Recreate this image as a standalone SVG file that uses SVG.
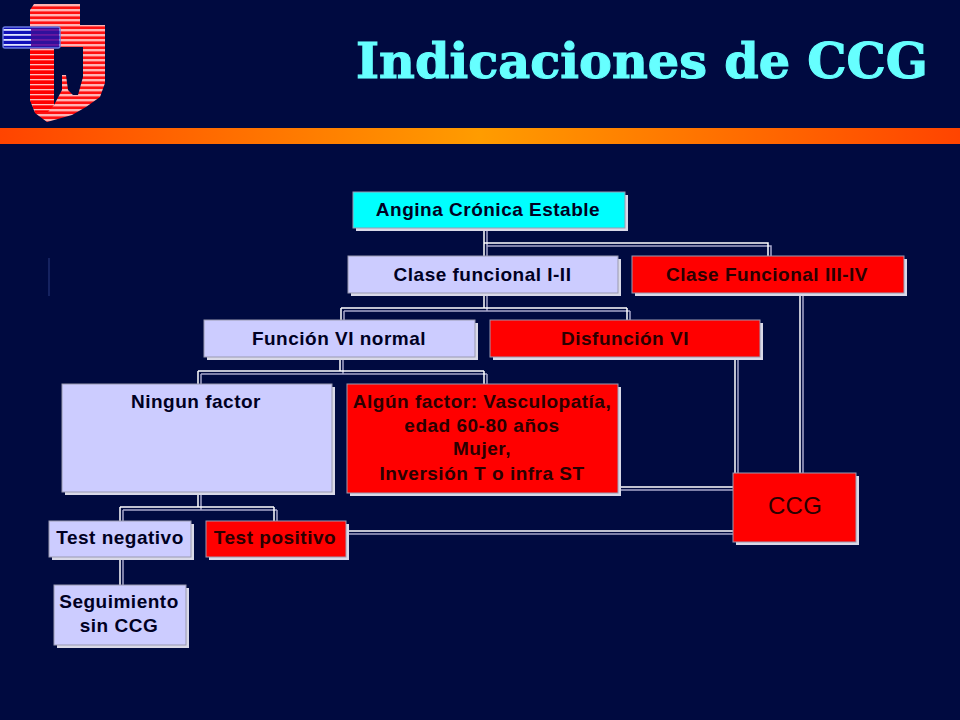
<svg xmlns="http://www.w3.org/2000/svg" width="960" height="720" viewBox="0 0 960 720">
<style>
.box{stroke:#9a9ab0;stroke-width:1}
.sh{fill:#d9d9e8}
.lav{fill:#ccccff}.red{fill:#ff0000}.cy{fill:#00ffff}
text{font-family:"Liberation Sans",Arial,sans-serif;font-weight:bold;font-size:19px;letter-spacing:0.5px;text-anchor:middle;fill:#000022}
.r{fill:#2a0000}
.w{fill:none;stroke:#ffffff;stroke-width:1.5}
.s{fill:none;stroke:#a8a8cc;stroke-width:1.5}
</style>
<defs>
<linearGradient id="band" x1="0" x2="1" y1="0" y2="0"><stop offset="0" stop-color="#ff4400"/><stop offset="0.5" stop-color="#ff9c00"/><stop offset="1" stop-color="#ff4400"/></linearGradient>
<pattern id="rs" width="10" height="5" patternUnits="userSpaceOnUse" y="4"><rect width="10" height="5" fill="#ff1010"/><rect width="10" height="2.4" fill="#ffb4b4"/></pattern>
<pattern id="rh" width="10" height="5" patternUnits="userSpaceOnUse" y="4"><rect width="10" height="5" fill="#ff0000"/><rect width="10" height="1.3" fill="#ffc0c0"/></pattern>
<pattern id="bs" width="10" height="5" patternUnits="userSpaceOnUse" y="29"><rect width="10" height="5" fill="#1010b8"/><rect width="10" height="1.8" fill="#dfe4ff"/></pattern>
<pattern id="ps" width="10" height="5" patternUnits="userSpaceOnUse" y="29"><rect width="10" height="5" fill="#30109c"/><rect width="10" height="1.8" fill="#6818a0"/></pattern>
</defs>
<rect width="960" height="720" fill="#000a40"/>
<rect y="128" width="960" height="16" fill="url(#band)"/>
<g id="logo">
<path fill="url(#rs)" fill-rule="evenodd" d="M30 10L34 4H80V25H105V83L100 97L86 107L72 115L47 122L35 113L30 100ZM54 47V105L62 90V75H66L68 90L73 95H78L83 77V47Z"/>
<path fill="url(#rh)" d="M30 48H54V105L48 112H35L30 100Z"/>
<rect x="3" y="27" width="57" height="21" rx="2" fill="url(#bs)" stroke="#6a7ae0" stroke-width="1.4"/>
<rect x="31" y="28" width="28" height="19" fill="url(#ps)"/>
</g>
<text x="642" y="78" style="font-family:'DejaVu Serif',serif;font-size:49px;letter-spacing:0;fill:#66ffff;stroke:#66ffff;stroke-width:1.1" textLength="572" lengthAdjust="spacingAndGlyphs">Indicaciones de CCG</text>
<path d="M49 258V296" stroke="#2a3a80" stroke-width="1" fill="none"/>
<g id="connectors">
<g transform="translate(3,3)">
<path class="s" d="M484 226V243M484 243H768V254M484 243V254"/>
<path class="s" d="M484 291V308M341 308H627M341 308V318M627 308V318"/>
<path class="s" d="M198 371H484M198 371V382M484 371V382M340 355V371"/>
<path class="s" d="M198 491V507M120 507H274M120 507V519M274 507V519"/>
<path class="s" d="M120 555V583"/>
<path class="s" d="M735 355V471M800 291V471M618 487H730M346 531H730"/>
</g>
<path class="w" d="M484 228V243M484 243H768V256M484 243V256"/>
<path class="w" d="M484 293V308M341 308H627M341 308V320M627 308V320"/>
<path class="w" d="M198 371H484M198 371V384M484 371V384M340 357V371"/>
<path class="w" d="M198 492V507M120 507H274M120 507V521M274 507V521"/>
<path class="w" d="M120 557V585"/>
<path class="w" d="M735 357V473M800 293V473M621 487H733M349 531H733"/>
</g>
<g id="n-angina"><rect class="sh" x="356" y="195" width="272" height="36"/><rect class="box cy" x="353" y="192" width="272" height="36"/><text x="488" y="216">Angina Crónica Estable</text></g>
<g id="n-clase12"><rect class="sh" x="351" y="259" width="270" height="37"/><rect class="box lav" x="348" y="256" width="270" height="37"/><text x="482.500" y="280.500">Clase funcional I-II</text></g>
<g id="n-clase34"><rect class="sh" x="635" y="259" width="272" height="37"/><rect class="box red" x="632" y="256" width="272" height="37"/><text class="r" x="767" y="280.500">Clase Funcional III-IV</text></g>
<g id="n-funcion"><rect class="sh" x="207" y="323" width="271" height="37"/><rect class="box lav" x="204" y="320" width="271" height="37"/><text x="339" y="344.500">Función VI normal</text></g>
<g id="n-disfuncion"><rect class="sh" x="493" y="323" width="270" height="37"/><rect class="box red" x="490" y="320" width="270" height="37"/><text class="r" x="625" y="344.500">Disfunción VI</text></g>
<g id="n-ningun"><rect class="sh" x="65" y="387" width="270" height="108"/><rect class="box lav" x="62" y="384" width="270" height="108"/><text x="196" y="408">Ningun factor</text></g>
<g id="n-algun"><rect class="sh" x="350" y="387" width="271" height="109"/><rect class="box red" x="347" y="384" width="271" height="109"/><text class="r" x="482" y="408">Algún factor: Vasculopatía,</text><text class="r" x="482" y="432">edad 60-80 años</text><text class="r" x="482" y="455">Mujer,</text><text class="r" x="482" y="480">Inversión T o infra ST</text></g>
<g id="n-neg"><rect class="sh" x="52" y="524" width="142" height="36"/><rect class="box lav" x="49" y="521" width="142" height="36"/><text x="120" y="544">Test negativo</text></g>
<g id="n-pos"><rect class="sh" x="209" y="524" width="140" height="36"/><rect class="box red" x="206" y="521" width="140" height="36"/><text class="r" x="275" y="544">Test positivo</text></g>
<g id="n-seg"><rect class="sh" x="57" y="588" width="132" height="60"/><rect class="box lav" x="54" y="585" width="132" height="60"/><text x="119" y="608">Seguimiento</text><text x="119" y="632">sin CCG</text></g>
<g id="n-ccg"><rect class="sh" x="736" y="476" width="123" height="69"/><rect class="box red" x="733" y="473" width="123" height="69"/><text class="r" x="795" y="514" style="font-weight:normal;font-size:24px;letter-spacing:0.300px">CCG</text></g>
</svg>
